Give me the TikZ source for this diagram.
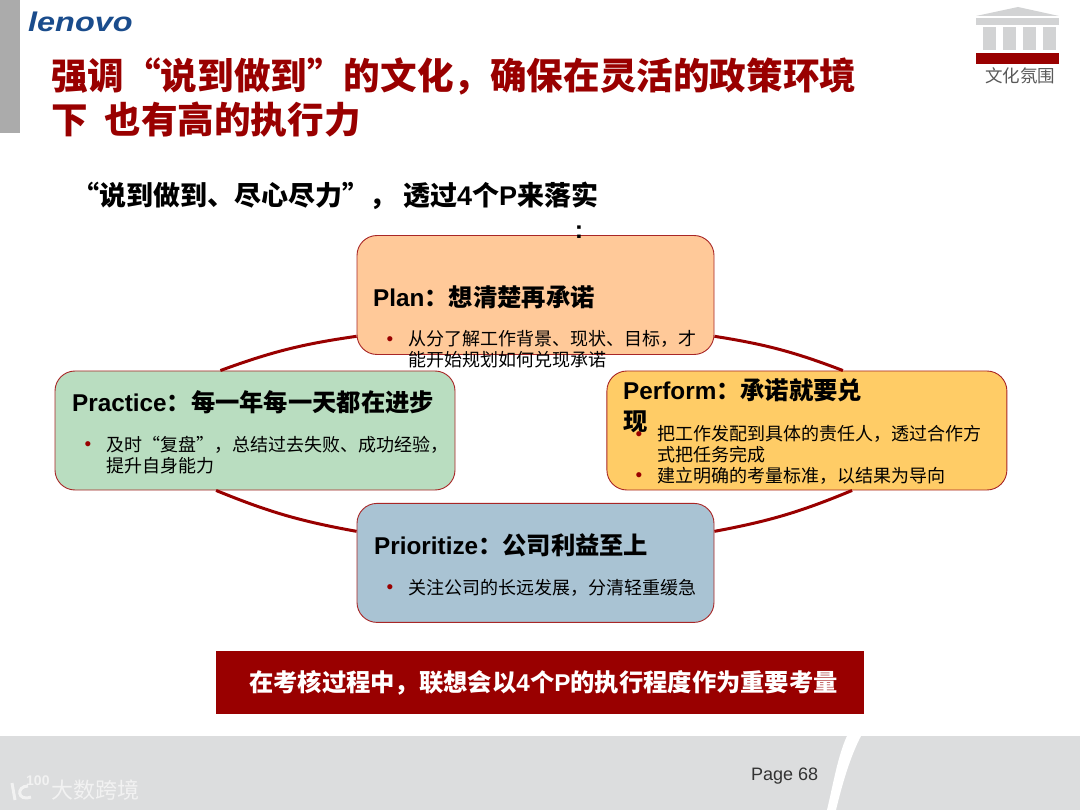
\documentclass[tikz,border=0pt]{standalone}
\usepackage{fontspec}
\setmainfont{Noto Sans CJK SC}
\newfontfamily\lat{Liberation Sans}
\usetikzlibrary{positioning}
\definecolor{lenovored}{HTML}{990000}
\definecolor{footgrey}{HTML}{DCDDDE}
\definecolor{roofgrey}{HTML}{D2D3D4}
\definecolor{logoblue}{HTML}{1A4C8C}
\definecolor{planfill}{HTML}{FFC999}
\definecolor{practicefill}{HTML}{B9DDC0}
\definecolor{performfill}{HTML}{FFCC66}
\definecolor{priorfill}{HTML}{A9C3D3}

\begin{document}
\begin{tikzpicture}[
  x=1pt, y=-1pt,
  node distance=10pt,
  box/.style={rectangle, draw=lenovored!85!white, line width=0.9pt, rounded corners=20pt, minimum width=#1, minimum height=119pt, inner sep=0pt},
  box/.default=400pt,
  head/.style={anchor=west, inner sep=0pt, align=left, font=\fontsize{24.3}{31}\selectfont\bfseries},
  body/.style={anchor=north west, inner sep=0pt, align=left, font=\fontsize{18}{21}\selectfont},
  bullet/.style={anchor=center, inner sep=0pt, text=lenovored, font=\lat\fontsize{19}{19}\selectfont},
  ring/.style={draw=lenovored, line width=3pt},
  flat/.style={fill=#1, draw=none}
]
  \useasboundingbox (0,0) rectangle (1080,810);
  % page furniture
  \fill[fill=white] (0,0) rectangle (1080,810);
  \path[flat=black!33] (0,0) rectangle (20,133);
  \path[flat=footgrey] (0,736) rectangle (1080,810);
  \path[flat=white] (847,736) .. controls (838,755) and (833,785) .. (827,810) -- (836,810) .. controls (842,785) and (850,757) .. (861,736) -- cycle;
  \node[inner sep=0pt, anchor=west, text=logoblue, font=\lat\fontsize{27}{27}\selectfont\bfseries\itshape] (logo) at (28,22) {\scalebox{1.2}[1]{lenovo}};

  % temple icon
  \path[flat=roofgrey] (976,16) -- (1018,7) -- (1059,16) -- cycle;
  \path[flat=roofgrey] (976,18) rectangle (1059,25);
  \foreach \x in {983,1003,1023,1043}
    \path[flat=roofgrey] (\x,27) rectangle ++(13,23);
  \path[flat=lenovored] (976,53) rectangle (1059,64);
  \node[inner sep=0pt, text=black!65, font=\fontsize{17.5}{20}\selectfont] (icontext) at (1020,76) {文化氛围};

  % title
  \node[anchor=north west, inner sep=0pt, align=left, text=lenovored, font=\fontsize{36.6}{44}\selectfont\bfseries] (title) at (51,58) {强调“说到做到”的文化，确保在灵活的政策环境\\下\ \ 也有高的执行力};
  \node[anchor=west, inner sep=0pt, font=\fontsize{27}{30}\selectfont\bfseries] (sub) at (72,196) {“说到做到、尽心尽力”，\hspace{7pt}透过{\lat 4}个{\lat P}来落实};

  % boxes
  \node[box=357pt, fill=planfill] (plan) at (535.5,295) {};
  \node[box, fill=practicefill] (practice) at (255,430.5) {};
  \node[box, fill=performfill, right=151pt of practice] (perform) {};
  \node[box=357pt, fill=priorfill, below=148pt of plan] (prior) {};
  \node[inner sep=0pt, font=\lat\fontsize{25}{30}\selectfont\bfseries] (subcolon) at (579,232) {:};

  % ring between the boxes
  \draw[ring] (plan.-13) to[bend left=6] (perform.59);
  \draw[ring] (perform.-53) to[bend left=6] (prior.10);
  \draw[ring] (prior.170) to[bend left=6] (practice.237);
  \draw[ring] (practice.120) to[bend left=6] (plan.193);

  % plan text
  \node[head] (planhead) at (373,297) {{\lat Plan}：想清楚再承诺};
  \node[bullet] (plandot) at (390,341) {•};
  \node[body] (planbody) at (408,330.5) {从分了解工作背景、现状、目标，才\\能开始规划如何兑现承诺};

  % practice text
  \node[head] (practicehead) at (72,402) {{\lat Practice}：每一年每一天都在进步};
  \node[bullet] (practicedot) at (88,446) {•};
  \node[body] (practicebody) at (106,436) {及时“复盘”，总结过去失败、成功经验，\\提升自身能力};

  % perform text
  \node[bullet] (performdot) at (639,436) {•};
  \node[bullet] (performdotb) at (639,477) {•};
  \node[head] (performhead) at (623,406) {{\lat Perform}：承诺就要兑\\现};
  \node[body] (performbody) at (657,425.5) {把工作发配到具体的责任人，透过合作方\\式把任务完成};
  \node[body] (performbodyb) at (657,467) {建立明确的考量标准，以结果为导向};

  % prioritize text
  \node[head] (priorhead) at (374,545) {{\lat Prioritize}：公司利益至上};
  \node[bullet] (priordot) at (390,589) {•};
  \node[body] (priorbody) at (408,579) {关注公司的长远发展，分清轻重缓急};

  % banner
  \node[flat=lenovored, minimum width=648pt, minimum height=63pt, inner sep=0pt, text=white, font=\fontsize{24.3}{28}\selectfont\bfseries] (banner) at (540,682.5) {\hspace{7pt}在考核过程中，联想会以{\lat 4}个{\lat P}的执行程度作为重要考量};

  % footer
  \node[anchor=west, inner sep=0pt, text=black!80, font=\lat\fontsize{18}{20}\selectfont] (page) at (751,776) {Page 68};
  \node[anchor=west, inner sep=0pt, text=white!95!black, font=\fontsize{22}{24}\selectfont] (mark) at (51,790) {大数跨境};
  \node[anchor=west, inner sep=0pt, text=white!95!black, font=\lat\fontsize{14}{14}\selectfont\bfseries] (marknum) at (26,781) {100};
  \draw[white!95!black, line width=3pt] (12,783) -- (15,800);
  \draw[white!95!black, line width=3pt] (28,786) .. controls (16,786) and (17,802) .. (31,797);
\end{tikzpicture}
\end{document}
